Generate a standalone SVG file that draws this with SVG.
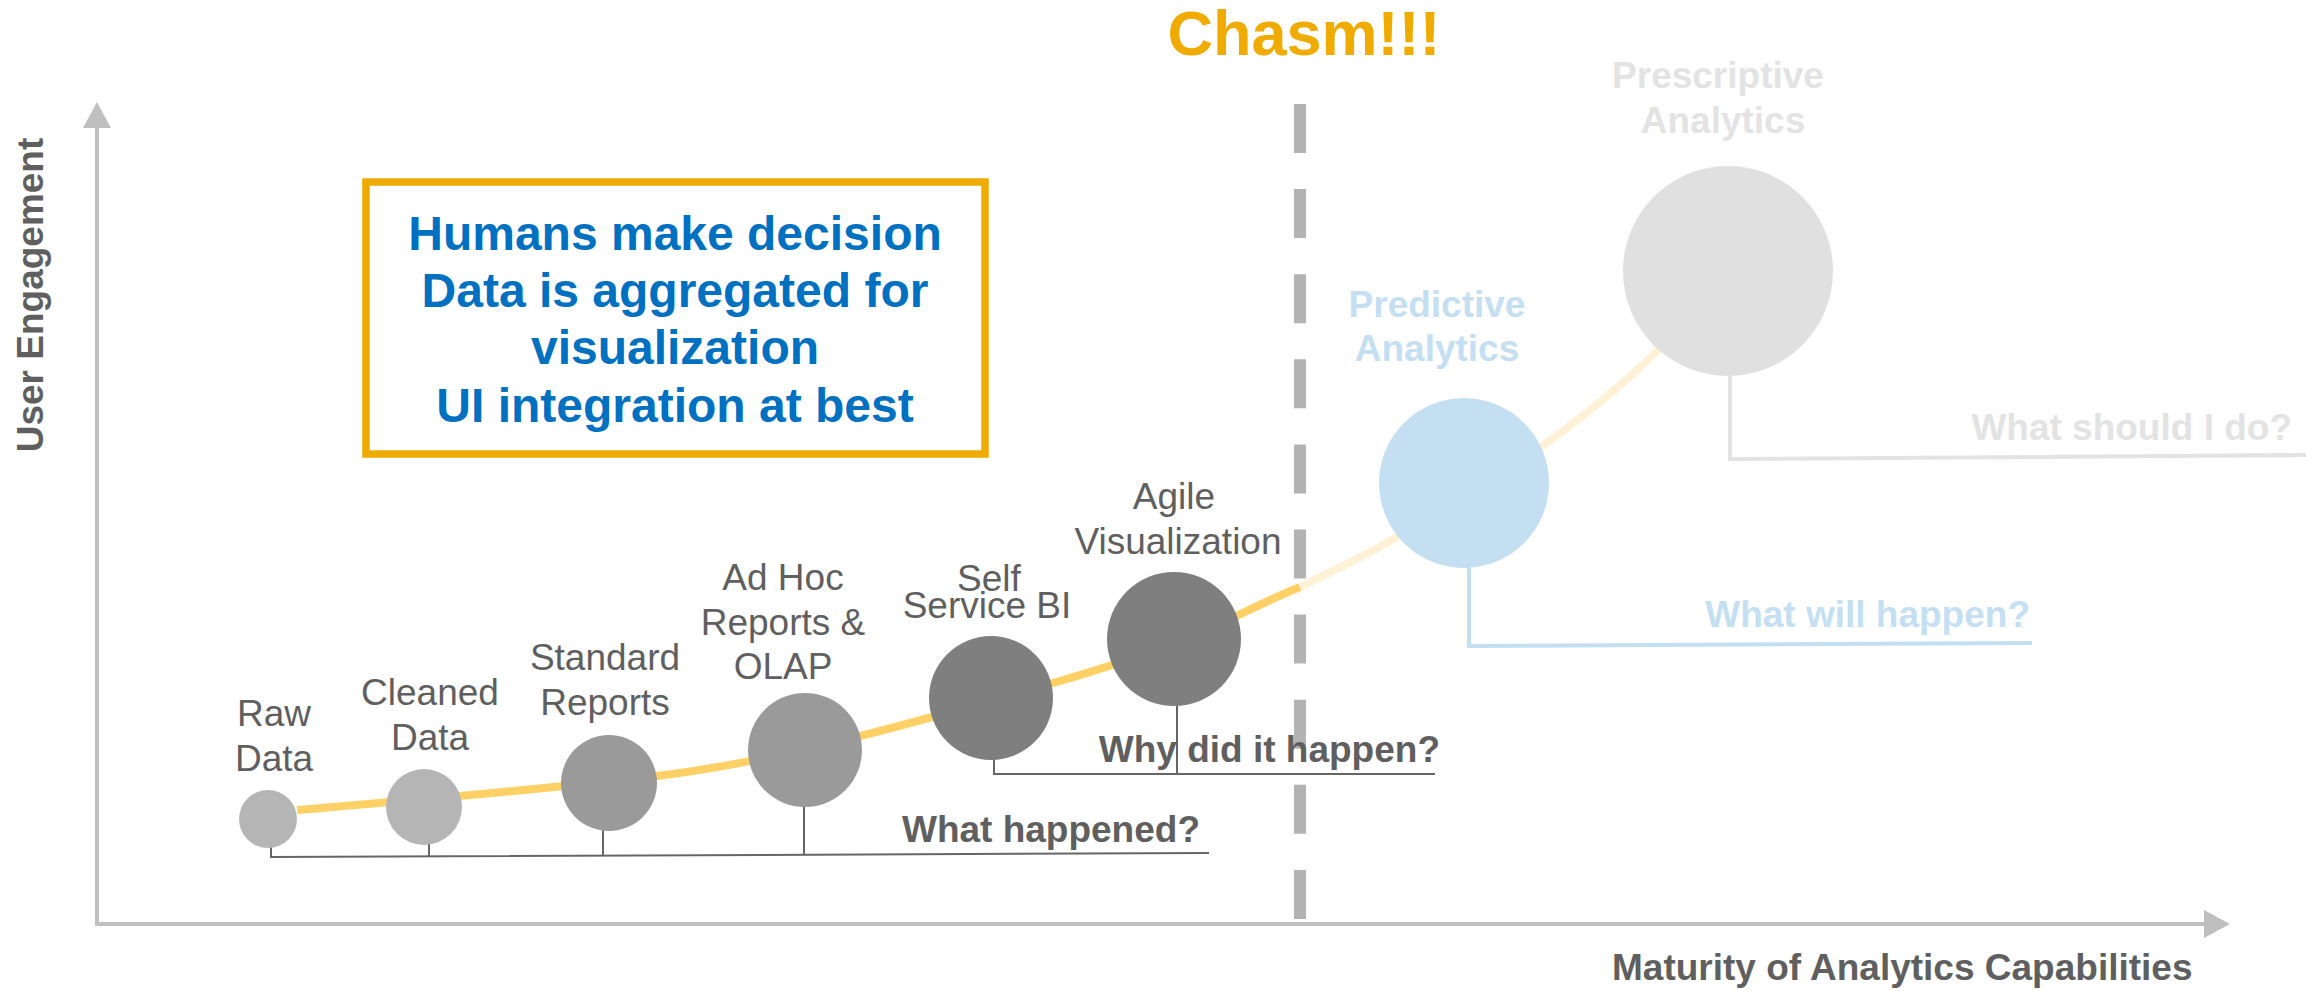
<svg xmlns="http://www.w3.org/2000/svg" width="2306" height="991" viewBox="0 0 2306 991">
<style>
  text { font-family: "Liberation Sans", Arial, sans-serif; }
  .lbl { font-size: 37px; fill: #5f5f5f; text-anchor: middle; }
  .q { font-size: 37px; font-weight: bold; fill: #5f5f5f; text-anchor: end; }
  .box { font-size: 48px; font-weight: bold; fill: #0070C0; text-anchor: middle; }
  .axis { stroke: #bfbfbf; stroke-width: 4; fill: none; }
  .stem { stroke: #666666; stroke-width: 2; fill: none; }
</style>
<defs>
  <marker id="arr" viewBox="0 0 26 28" refX="16" refY="14" markerWidth="26" markerHeight="28" markerUnits="userSpaceOnUse" orient="auto">
    <path d="M0,0 L26,14 L0,28 z" fill="#bfbfbf"/>
  </marker>
</defs>
<rect width="2306" height="991" fill="#ffffff"/>

<g id="axes">
  <line class="axis" x1="97" y1="926" x2="97" y2="112" marker-end="url(#arr)"/>
  <line class="axis" x1="95" y1="924" x2="2220" y2="924" marker-end="url(#arr)"/>
  <text x="43" y="295" transform="rotate(-90 43 295)" text-anchor="middle" font-size="37" font-weight="bold" fill="#5f5f5f">User Engagement</text>
  <text x="1612" y="980" font-size="37" font-weight="bold" fill="#5f5f5f">Maturity of Analytics Capabilities</text>
</g>

<g id="chasm">
  <line x1="1300" y1="104" x2="1300" y2="919" stroke="#b3b3b3" stroke-width="12" stroke-dasharray="49 36.1"/>
  <text x="1304" y="55" text-anchor="middle" font-size="63" font-weight="bold" fill="#F0AB00">Chasm!!!</text>
</g>

<g id="summary-box">
  <rect x="366" y="182" width="619" height="272" fill="#ffffff" stroke="#F0AB00" stroke-width="7.5"/>
  <text class="box" x="675" y="250">Humans make decision</text>
  <text class="box" x="675" y="307">Data is aggregated for</text>
  <text class="box" x="675" y="364">visualization</text>
  <text class="box" x="675" y="422">UI integration at best</text>
</g>

<g id="connectors">
  <path d="M297,810 C380,803 540,790 657,776 S900,727 1053,683 S1240,611 1300,587" fill="none" stroke="#FFD066" stroke-width="8"/>
  <path d="M1300,587 C1400,540 1560,450 1665,343" fill="none" stroke="#FFF1D6" stroke-width="8"/>
  <polyline class="stem" points="271,846 271,857 1209,853"/>
  <line class="stem" x1="429" y1="843" x2="429" y2="856.5"/>
  <line class="stem" x1="603" y1="829" x2="603" y2="855.5"/>
  <line class="stem" x1="804" y1="805" x2="804" y2="855"/>
  <polyline class="stem" points="994,758 994,774 1435,774"/>
  <line class="stem" x1="1177" y1="704" x2="1177" y2="774"/>
  <polyline points="1469,566 1469,646 2032,643" fill="none" stroke="#C5DFF2" stroke-width="4"/>
  <polyline points="1730,375 1730,459 2306,455" fill="none" stroke="#E3E3E3" stroke-width="4"/>
</g>

<g id="node-raw-data">
  <circle cx="268" cy="819" r="29" fill="#b5b5b5"/>
  <text class="lbl" x="274" y="726">Raw</text>
  <text class="lbl" x="274" y="771">Data</text>
</g>
<g id="node-cleaned-data">
  <circle cx="424" cy="807" r="38" fill="#b5b5b5"/>
  <text class="lbl" x="430" y="705">Cleaned</text>
  <text class="lbl" x="430" y="750">Data</text>
</g>
<g id="node-standard-reports">
  <circle cx="609" cy="783" r="48" fill="#9a9a9a"/>
  <text class="lbl" x="605" y="670">Standard</text>
  <text class="lbl" x="605" y="715">Reports</text>
</g>
<g id="node-adhoc">
  <circle cx="805" cy="750" r="57" fill="#9a9a9a"/>
  <text class="lbl" x="783" y="590">Ad Hoc</text>
  <text class="lbl" x="783" y="635">Reports &amp;</text>
  <text class="lbl" x="783" y="679">OLAP</text>
</g>
<g id="node-self-service">
  <circle cx="991" cy="698" r="62" fill="#7f7f7f"/>
  <text class="lbl" x="989" y="591">Self</text>
  <text class="lbl" x="987" y="618">Service BI</text>
</g>
<g id="node-agile">
  <circle cx="1174" cy="639" r="67" fill="#7f7f7f"/>
  <text class="lbl" x="1174" y="509">Agile</text>
  <text class="lbl" x="1178" y="554">Visualization</text>
</g>
<g id="node-predictive">
  <circle cx="1464" cy="483" r="85" fill="#C5DFF2"/>
  <text class="lbl" x="1437" y="317" font-weight="bold" style="fill:#C5DFF2">Predictive</text>
  <text class="lbl" x="1437" y="361" font-weight="bold" style="fill:#C5DFF2">Analytics</text>
</g>
<g id="node-prescriptive">
  <circle cx="1728" cy="271" r="105" fill="#E0E0E0"/>
  <text class="lbl" x="1718" y="88" font-weight="bold" style="fill:#E3E3E3">Prescriptive</text>
  <text class="lbl" x="1723" y="133" font-weight="bold" style="fill:#E3E3E3">Analytics</text>
</g>

<g id="questions">
  <text class="q" x="1200" y="842">What happened?</text>
  <text class="q" x="1440" y="762">Why did it happen?</text>
  <text class="q" x="2030" y="627" style="fill:#C5DFF2">What will happen?</text>
  <text class="q" x="2292" y="440" style="fill:#E3E3E3">What should I do?</text>
</g>
</svg>
